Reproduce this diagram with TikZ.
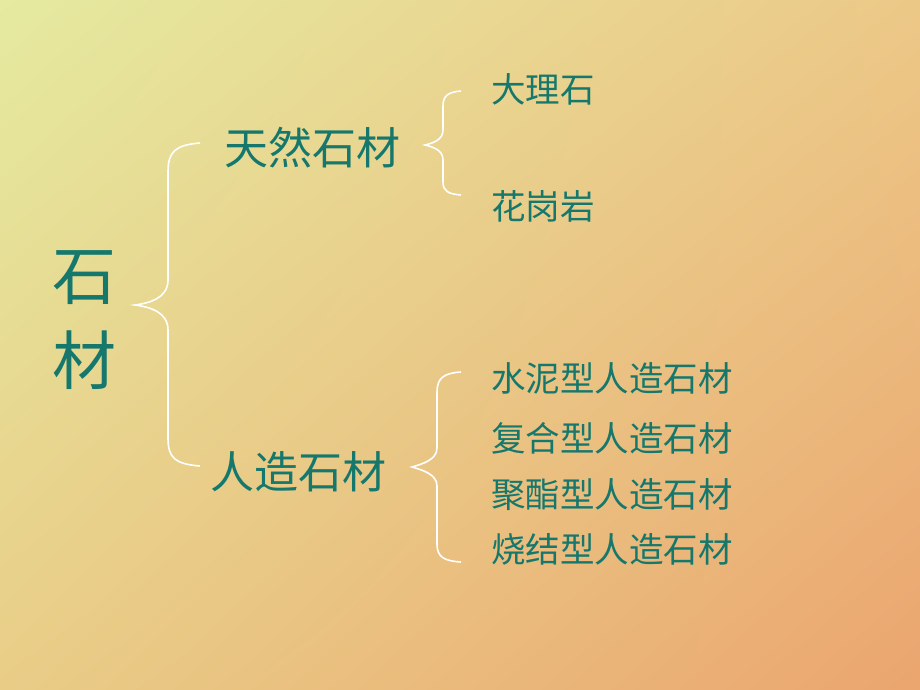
\documentclass[tikz,border=0pt]{standalone}
\usepackage{fontspec}
\usetikzlibrary{shadings}
\newfontfamily\cjk{Noto Sans CJK SC}
\definecolor{tc}{HTML}{16786C}
\definecolor{cul}{RGB}{229,234,160}
\definecolor{cur}{RGB}{236,200,135}
\definecolor{cll}{RGB}{233,205,135}
\definecolor{clr}{RGB}{235,165,111}
\begin{document}
\begin{tikzpicture}[x=1pt,y=-1pt,
  br/.style={draw=white,line width=1.6pt},
  big/.style={text=tc,font=\cjk\fontsize{64}{68}\selectfont,inner sep=0},
  mid/.style={text=tc,font=\cjk\fontsize{44}{48}\selectfont,inner sep=0},
  sm/.style={text=tc,font=\cjk\fontsize{34.5}{38}\selectfont,inner sep=0,anchor=west}]
\useasboundingbox (0,0) rectangle (920,690);
\shade[upper left=cul,upper right=cur,lower left=cll,lower right=clr] (0,0) rectangle (920,690);
\node[big] (s1) at (84,278) {石};
\node[big] (s2) at (84,360) {材};
\node[mid] (n1) at (312,148) {天然石材};
\node[mid] (n2) at (298,472) {人造石材};
\node[sm] (a1) at (491,89) {大理石};
\node[sm] (a2) at (491,206) {花岗岩};
\node[sm] (b1) at (491,378) {水泥型人造石材};
\node[sm] (b2) at (491,438) {复合型人造石材};
\node[sm] (b3) at (491,495) {聚酯型人造石材};
\node[sm] (b4) at (491,549) {烧结型人造石材};
\draw[br] (200,143) .. controls (175,145) and (168,152) .. (168,172) -- (168,280)
  .. controls (168,298) and (150,303) .. (135,305) .. controls (150,307) and (168,312) .. (168,330)
  -- (168,438) .. controls (168,458) and (175,464) .. (200,466);
\draw[br] (461,91) .. controls (448,92) and (443,96) .. (443,106) -- (443,130)
  .. controls (443,140) and (433,143) .. (425,145) .. controls (433,147) and (443,150) .. (443,160)
  -- (443,182) .. controls (443,191) and (448,194) .. (461,195);
\draw[br] (461,372) .. controls (444,373) and (437,378) .. (437,392) -- (437,448)
  .. controls (437,460) and (422,464) .. (412,467) .. controls (422,470) and (437,474) .. (437,486)
  -- (437,544) .. controls (437,557) and (444,561) .. (461,562);
\end{tikzpicture}
\end{document}
